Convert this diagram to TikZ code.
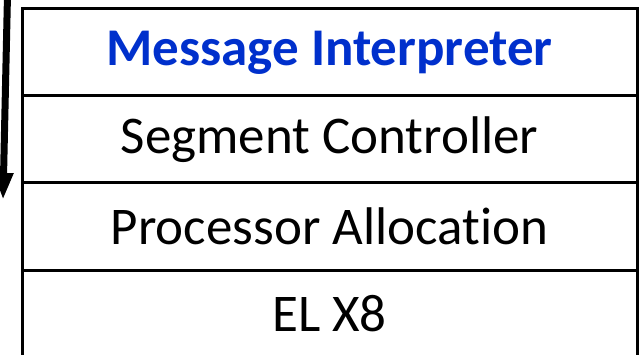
\documentclass[tikz,border=0pt]{standalone}
\usepackage{fontspec}
\setmainfont{Carlito}[RawFeature=-liga]
\usetikzlibrary{arrows.meta}
\definecolor{headblue}{RGB}{0,48,204}
\tikzset{
  layer/.style={draw=black, line width=3pt, minimum width=615pt, minimum height=87pt,
    inner sep=0pt, outer sep=0pt, anchor=north west, font=\fontsize{53}{62}\selectfont},
  flow/.style={line width=7pt, -{Triangle[width=18pt,length=27pt]}}
}
\begin{document}
\begin{tikzpicture}[x=1pt,y=-1pt]
  \useasboundingbox (0,0) rectangle (642,355);
  \begin{scope}
    \clip (0,0) rectangle (642,355);
    \node[layer, text=headblue, font=\fontsize{53}{62}\selectfont\bfseries] (r1) at (22,9) {Message Interpreter};
    \node[layer] (r2) at (r1.south west) {Segment Controller};
    \node[layer] (r3) at (r2.south west) {Processor Allocation};
    \node[layer] (r4) at (r3.south west) {EL X8};
    \coordinate (a0) at (7.5,-5);
    \coordinate (a1) at (3,200);
    \draw[flow] (a0) -- (a1);
  \end{scope}
\end{tikzpicture}
\end{document}
